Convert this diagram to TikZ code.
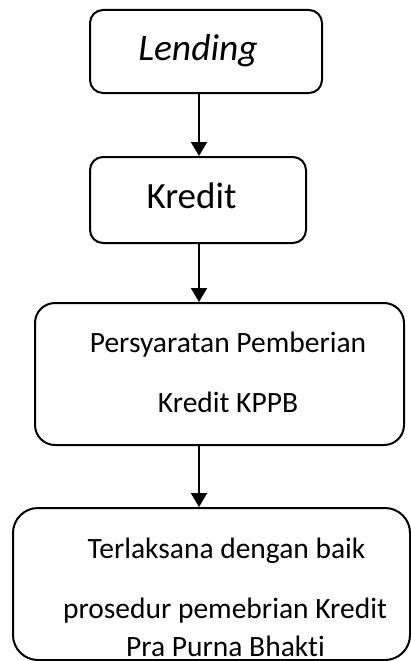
\documentclass[tikz,border=0pt]{standalone}
\usepackage{fontspec}
\setmainfont{Carlito}[Ligatures={NoCommon},RawFeature={-liga;-calt;-dlig}]
\usetikzlibrary{arrows.meta}
\tikzset{
  box/.style={draw, line width=2pt, inner sep=0pt},
  txt/.style={inner sep=0pt, anchor=base},
  arr/.style={line width=2pt, -{Triangle[length=14pt,width=16pt]}},
}
\begin{document}
\begin{tikzpicture}[x=1pt,y=1pt]
\useasboundingbox (0,0) rectangle (411,-661);
\node[box, rounded corners=13pt, minimum width=232pt, minimum height=83pt] (b1) at (206,-51.5) {};
\node[box, rounded corners=13pt, minimum width=216pt, minimum height=86pt] (b2) at (198,-200) {};
\node[box, rounded corners=20pt, minimum width=369pt, minimum height=142pt] (b3) at (219.5,-374) {};
\node[box, rounded corners=25pt, minimum width=397pt, minimum height=152pt] (b4) at (211.5,-584) {};
\node[txt] (t1) at (198,-60) {\fontsize{37.5}{42}\selectfont\itshape Lending};
\node[txt] (t2) at (191.5,-208) {\fontsize{37}{42}\selectfont Kredit};
\node[txt] (t3) at (228,-352) {\fontsize{29.5}{34}\selectfont Persyaratan Pemberian};
\node[txt] (t4) at (228,-412) {\fontsize{29.5}{34}\selectfont Kredit KPPB};
\node[txt] (t5) at (226.5,-558) {\fontsize{29.5}{34}\selectfont Terlaksana dengan baik};
\node[txt] (t6) at (225,-618) {\fontsize{29.5}{34}\selectfont prosedur pemebrian Kredit};
\node[txt] (t7) at (225.5,-656.5) {\fontsize{29.5}{34}\selectfont Pra Purna Bhakt\kern0pt i};
\coordinate (ax) at (199,0);
\draw[arr] (ax |- b1.south) -- (ax |- b2.north);
\draw[arr] (ax |- b2.south) -- (ax |- b3.north);
\draw[arr] (ax |- b3.south) -- (ax |- b4.north);
\end{tikzpicture}
\end{document}
